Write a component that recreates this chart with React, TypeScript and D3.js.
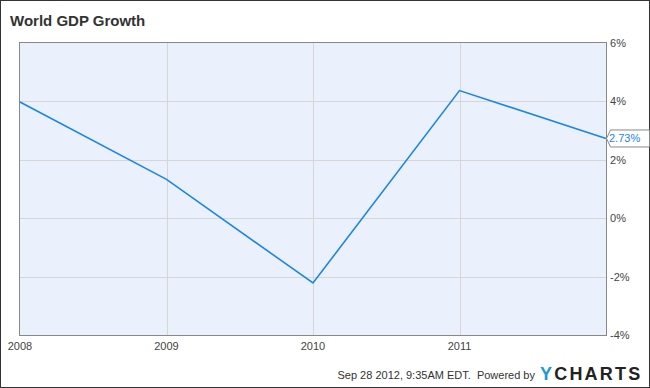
import React from 'react';
import * as d3 from 'd3';

const years = [2008, 2009, 2010, 2011, 2012];
const growth = [3.98, 1.33, -2.22, 4.37, 2.73];
const yearTicks = [2008, 2009, 2010, 2011];
const pctTicks = [6, 4, 2, 0, -2, -4];
const lastLabel = '2.73%';

const W = 650;
const H = 388;
const plot = { left: 20, right: 606, top: 43, bottom: 335 };

const App: React.FC = () => {
  const x = d3.scaleLinear().domain([2008, 2012]).range([plot.left, plot.right]);
  const y = d3.scaleLinear().domain([-4, 6]).range([plot.bottom, plot.top]);

  const pts = years.map((yr, i) => ({ yr, v: growth[i] }));
  const line = d3.line<{ yr: number; v: number }>()
    .x(d => x(d.yr))
    .y(d => y(d.v));

  const lastY = y(growth[growth.length - 1]);
  const font = 'Liberation Sans, Arial, sans-serif';

  return (
    <svg width={W} height={H} style={{ position: 'absolute', left: 0, top: 0 }} fontFamily={font}>
      <rect x={0.5} y={0.5} width={W - 1} height={H - 1} fill="#fff" stroke="#333" />
      <text x={10} y={26} fontSize={15} fontWeight="bold" fill="#333">World GDP Growth</text>

      {/* plot background */}
      <rect x={plot.left} y={plot.top} width={plot.right - plot.left} height={plot.bottom - plot.top} fill="#eaf0fc" />

      {/* grid */}
      {pctTicks.filter(t => t !== 6 && t !== -4).map(t => (
        <line key={'h' + t} x1={plot.left} x2={plot.right} y1={Math.round(y(t)) + 0.5} y2={Math.round(y(t)) + 0.5} stroke="#d6d6d6" />
      ))}
      {yearTicks.filter(t => t !== 2008).map(t => (
        <line key={'v' + t} x1={Math.round(x(t)) + 0.5} x2={Math.round(x(t)) + 0.5} y1={plot.top} y2={plot.bottom} stroke="#d6d6d6" />
      ))}

      <rect x={plot.left - 0.5} y={plot.top - 0.5} width={plot.right - plot.left + 1} height={plot.bottom - plot.top + 1} fill="none" stroke="#888" />

      <path d={line(pts) || ''} fill="none" stroke="#1a86e6" strokeWidth={1.6} />

      {/* y axis labels */}
      {pctTicks.map(t => (
        <text key={'yl' + t} x={plot.right + 4} y={y(t) + 4} fontSize={11} fill="#444">{t}%</text>
      ))}

      {/* x axis labels */}
      {yearTicks.map(t => (
        <text key={'xl' + t} x={x(t)} y={350} fontSize={11} fill="#444" textAnchor="middle">{t}</text>
      ))}

      {/* last value flag */}
      <path
        d={`M${plot.right + 0.5},${lastY} L${plot.right + 4.5},${lastY - 8.5} H${W - 0.5} V${lastY + 8.5} H${plot.right + 4.5} Z`}
        fill="#fff" stroke="#888"
      />
      <text x={plot.right + 3} y={lastY + 4} fontSize={11} fill="#1a86e6">{lastLabel}</text>

      {/* footer */}
      <text x={535} y={379} fontSize={11} fill="#333" textAnchor="end" style={{ whiteSpace: 'pre' }}>Sep 28 2012, 9:35AM EDT.  Powered by</text>
      <text x={540} y={380} fontSize={18} fontWeight="bold" letterSpacing={2.2}>
        <tspan fill="#1a9ad6">Y</tspan>
        <tspan fill="#222">CHARTS</tspan>
      </text>
    </svg>
  );
};

export default App;
